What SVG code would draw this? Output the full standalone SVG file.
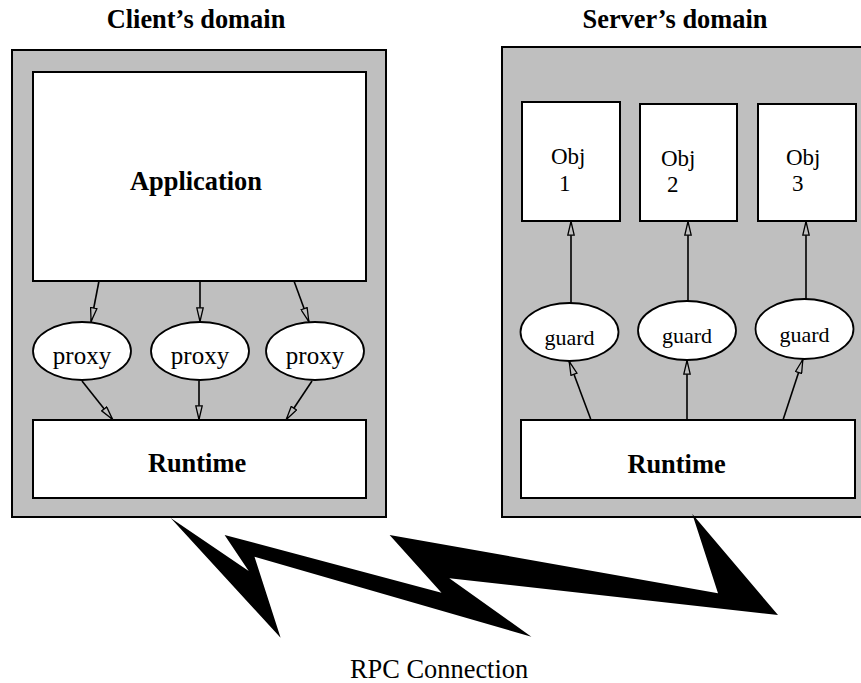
<svg xmlns="http://www.w3.org/2000/svg" width="861" height="683" viewBox="0 0 861 683">
<style>
.domain{fill:#bfbfbf;stroke:#000;stroke-width:2}
.box{fill:#fff;stroke:#000;stroke-width:2}
.ell{fill:#fff;stroke:#000;stroke-width:1.8}
text{font-family:"Liberation Serif",Tinos,"Times New Roman","DejaVu Serif",serif;fill:#000}
.b{font-weight:bold;font-size:26.4px}
.r{font-size:25px}
.o{font-size:23px}
.g{font-size:22px}
.c line{stroke:#000;stroke-width:1.6;marker-end:url(#ah)}
</style>
<defs>
<marker id="ah" viewBox="0 0 15 8" refX="15" refY="4" markerWidth="15" markerHeight="8" markerUnits="userSpaceOnUse" orient="auto">
<path d="M0.8,0.8 L14.5,4 L0.8,7.2 z" fill="#bfbfbf" stroke="#000" stroke-width="1.3"/>
</marker>
</defs>
<rect width="861" height="683" fill="#fff"/>
<g id="client-domain">
<rect class="domain" x="12" y="50" width="374" height="467"/>
<text class="b" x="196" y="28" text-anchor="middle">Client’s domain</text>
</g>
<g id="server-domain">
<rect class="domain" x="502" y="47" width="380" height="470"/>
<text class="b" x="675" y="28" text-anchor="middle">Server’s domain</text>
</g>
<g id="application">
<rect class="box" x="33" y="72" width="333" height="209"/>
<text class="b" x="196" y="190" text-anchor="middle">Application</text>
</g>
<g id="proxy1"><ellipse class="ell" cx="82" cy="351" rx="49" ry="29"/><text class="r" x="82" y="364" text-anchor="middle">proxy</text></g>
<g id="proxy2"><ellipse class="ell" cx="200" cy="351" rx="49" ry="29"/><text class="r" x="200" y="364" text-anchor="middle">proxy</text></g>
<g id="proxy3"><ellipse class="ell" cx="315" cy="351" rx="49" ry="29"/><text class="r" x="315" y="364" text-anchor="middle">proxy</text></g>
<g id="client-runtime">
<rect class="box" x="33" y="420" width="333" height="78"/>
<text class="b" x="197" y="472" text-anchor="middle">Runtime</text>
</g>
<g id="obj1"><rect class="box" x="522" y="102" width="98" height="119"/><text class="o" x="551" y="164">Obj</text><text class="o" x="559" y="191">1</text></g>
<g id="obj2"><rect class="box" x="640" y="104" width="97" height="117"/><text class="o" x="661" y="166">Obj</text><text class="o" x="667" y="192">2</text></g>
<g id="obj3"><rect class="box" x="758" y="104" width="98" height="117"/><text class="o" x="786" y="165">Obj</text><text class="o" x="792" y="191">3</text></g>
<g id="guard1"><ellipse class="ell" cx="569.5" cy="332" rx="49" ry="29"/><text class="g" x="569.5" y="345" text-anchor="middle">guard</text></g>
<g id="guard2"><ellipse class="ell" cx="687" cy="330.5" rx="49" ry="29.5"/><text class="g" x="687" y="343" text-anchor="middle">guard</text></g>
<g id="guard3"><ellipse class="ell" cx="804.5" cy="329" rx="49" ry="30"/><text class="g" x="804.5" y="342" text-anchor="middle">guard</text></g>
<g id="server-runtime">
<rect class="box" x="521" y="420" width="334" height="78"/>
<text class="b" x="676.5" y="473" text-anchor="middle">Runtime</text>
</g>
<g id="connectors" class="c">
<line x1="99" y1="281" x2="91" y2="322"/>
<line x1="200" y1="281" x2="200" y2="322"/>
<line x1="294" y1="281" x2="309" y2="322"/>
<line x1="82" y1="381" x2="113" y2="420"/>
<line x1="199" y1="381" x2="199" y2="420"/>
<line x1="312" y1="381" x2="286" y2="420"/>
<line x1="571" y1="303" x2="571" y2="221"/>
<line x1="688" y1="301" x2="688" y2="221"/>
<line x1="806" y1="299" x2="806" y2="221"/>
<line x1="591" y1="420" x2="569" y2="361"/>
<line x1="687" y1="420" x2="687" y2="360"/>
<line x1="783" y1="420" x2="803" y2="359"/>
</g>
<g id="rpc-connection">
<polygon points="170.7,518 248.7,571 224.6,535 441.5,592.7 389.6,535 718,593.3 692.3,514 778,615 449.3,578.3 531.4,636.7 254.5,556.7 280.6,637.7" fill="#000"/>
<text class="r" x="350" y="678" style="font-size:26.4px">RPC Connection</text>
</g>
</svg>
